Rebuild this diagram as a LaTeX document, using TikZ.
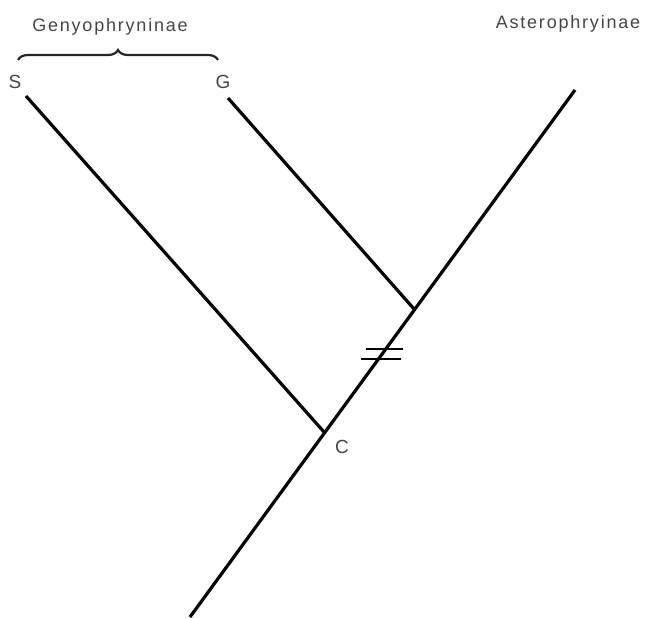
\documentclass[tikz,border=0pt]{standalone}
\usepackage{fontspec}
\setmainfont[LetterSpace=10]{Liberation Sans}
\usetikzlibrary{decorations.pathreplacing}
\definecolor{labelgray}{HTML}{454545}
\tikzset{
  branch/.style={line width=3.2pt, black},
  bar/.style={line width=2.8pt, black},
  taxon/.style={text=labelgray, font=\fontsize{18}{21}\selectfont, inner sep=0pt},
  tiplabel/.style={text=labelgray, font=\fontsize{19}{22}\selectfont, inner sep=0pt},
  bracestyle/.style={line width=2.2pt, black!85, decorate, decoration={brace, amplitude=10pt, aspect=0.5}}
}
\begin{document}
\begin{tikzpicture}[x=1pt, y=-1pt]
\useasboundingbox (0,0) rectangle (649,618);
% tree coordinates
\coordinate (root) at (190,617);
\coordinate (top) at (575,90);
\coordinate (jc) at (324,432);
\coordinate (jg) at (414,309);
\coordinate (tipS) at (26,96);
\coordinate (tipG) at (228,98);
% branches
\draw[branch] (root) -- (top);
\draw[branch] (tipS) -- (jc);
\draw[branch] (tipG) -- (jg);
% double bar
\coordinate (b1l) at (366,349);
\coordinate (b1r) at (403,349);
\coordinate (b2l) at (361,359);
\coordinate (b2r) at (401,359);
\draw[bar] (b1l) -- (b1r);
\draw[bar] (b2l) -- (b2r);
% brace
\coordinate (brl) at (18,60);
\coordinate (brr) at (218,60);
\draw[bracestyle] (brl) -- (brr);
% labels
\node[taxon] (geny) at (110,27) {Genyophryninae};
\node[taxon] (aster) at (568,24) {Asterophryinae};
\node[tiplabel] (ls) at (15,82) {S};
\node[tiplabel] (lg) at (223,82) {G};
\node[tiplabel] (lc) at (342,447) {C};
\end{tikzpicture}
\end{document}
